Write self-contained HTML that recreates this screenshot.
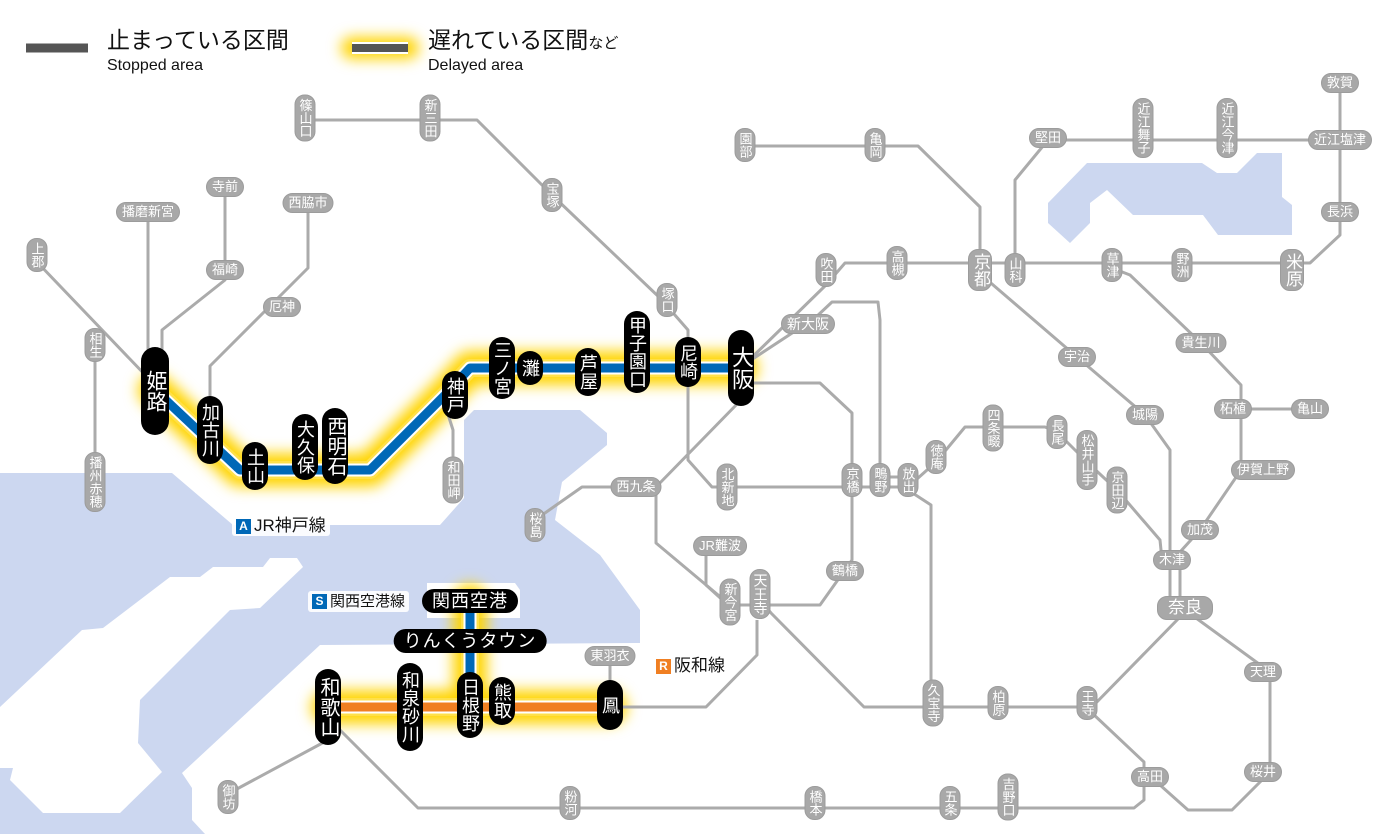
<!DOCTYPE html>
<html><head><meta charset="utf-8"><style>
html,body{margin:0;padding:0;background:#fff}
#w{position:relative;width:1400px;height:834px;overflow:hidden;font-family:"Liberation Sans","Noto Sans CJK JP",sans-serif}
svg{position:absolute;left:0;top:0}
.p{position:absolute;transform:translate(-50%,-50%);color:#fff;text-align:center;white-space:nowrap;box-sizing:border-box}
.g{background:#a8a8a8;font-size:13px;border-radius:10px;border:1px solid #9c9c9c}
.gv{writing-mode:vertical-rl;text-orientation:upright;width:21px;line-height:19px;padding:3px 0}
.gh{height:20px;line-height:18px;padding:0 5px}
.b{background:#000;font-size:18px;border-radius:14px}
.bv{writing-mode:vertical-rl;text-orientation:upright;line-height:26px;width:26px}
.bh{height:24px;line-height:24px;padding:0 10px;font-size:18px;letter-spacing:1px}
.lab{position:absolute;background:rgba(255,255,255,.9);font-size:17px;color:#111;padding:0 4px;height:21px;line-height:21px;border-radius:3px;white-space:nowrap}
.ic{display:inline-block;width:15px;height:15px;line-height:15px;font-size:12px;font-weight:bold;color:#fff;text-align:center;margin-right:3px;vertical-align:1px}
.lg{position:absolute;color:#111;white-space:nowrap}
</style></head><body><div id="w">
<svg width="1400" height="834" viewBox="0 0 1400 834">
<defs><filter id="bl" x="-20%" y="-50%" width="140%" height="200%"><feGaussianBlur stdDeviation="7"/></filter></defs>
<path fill="#ccd7f0" d="M0,473 L172,473 L233,525 L440,525 L464,498 L464,420 L474,410 L580,410 L607,433 L607,445 L562,482 L555,520 L600,555 L640,610 L640,643 L320,645 L182,773 L192,788 L192,820 L205,834 L0,834 Z"/>
<path fill="#fff" d="M0,707 L82,630 L103,628 L170,577 L200,577 L213,567 L263,567 L270,558 L297,558 L303,567 L260,608 L230,610 L140,700 L138,743 L162,772 L120,813 L43,813 L10,780 L13,768 L0,768 Z"/>
<path fill="#fff" d="M427,583 L515,583 L520,590 L520,618 L427,618 Z"/>
<path fill="#ccd7f0" d="M1087,163 L1202,163 L1217,173 L1237,173 L1257,153 L1282,153 L1282,197 L1292,205 L1292,235 L1218,235 L1203,215 L1133,215 L1107,190 L1090,203 L1090,223 L1070,243 L1048,223 L1048,203 Z"/>
<g filter="url(#bl)" stroke="#ffd400" fill="none" stroke-linecap="round" stroke-linejoin="round">
<path stroke-width="34" d="M155,390 L240,470 L370,470 L445,395 L470,368 L741,368"/>
<path stroke-width="34" d="M328,707 L610,707 M470,601 L470,703"/>
<path stroke-width="22" d="M352,48 L408,48"/>
</g>
<g stroke="#ffe04a" fill="none" stroke-width="18" stroke-linejoin="round">
<path d="M155,390 L240,470 L370,470 L445,395 L470,368 L741,368"/>
<path d="M328,707 L610,707 M470,601 L470,703"/>
</g>
<g stroke="#ababab" stroke-width="3" fill="none" stroke-linejoin="round">
<path d="M37,262 L150,380"/>
<path d="M95,345 L95,480"/>
<path d="M148,212 L148,372"/>
<path d="M225,187 L225,280 L162,330 L162,372"/>
<path d="M308,203 L308,268 L210,366 L210,420"/>
<path d="M305,120 L477,120 L552,195 L660,298 L688,330 L688,460 L712,487 L908,487"/>
<path d="M880,477 L908,477"/>
<path d="M741,368 L826,285 L845,263 L1310,263 L1340,235 L1340,83"/>
<path d="M748,362 L815,318 L832,302 L878,302 L880,320 L880,477"/>
<path d="M1015,268 L1015,180 L1048,140 M1048,140 L1340,140"/>
<path d="M980,268 L980,207 L918,146 L745,146"/>
<path d="M985,278 L1077,357 L1145,415 L1170,450 L1170,610"/>
<path d="M1180,560 L1180,610"/>
<path d="M1112,268 L1130,275 L1201,343 L1241,385 L1241,470 L1200,530 L1180,552"/>
<path d="M1233,409 L1310,409"/>
<path d="M760,600 L771,613 L864,707 L1092,707 L1180,617"/>
<path d="M1185,610 L1270,672 L1270,772 L1232,810 L1188,810 L1160,785"/>
<path d="M1092,713 L1144,762 L1144,800 L1134,808 L418,808 L340,730"/>
<path d="M328,740 L235,790"/>
<path d="M610,707 L706,707 L757,655 L757,620"/>
<path d="M610,656 L610,690"/>
<path d="M741,383 L820,383 L852,413 L852,560 L820,605 L730,605 L656,543 L656,487 L741,400"/>
<path d="M656,487 L582,487 L535,520"/>
<path d="M706,547 L706,585 L728,605"/>
<path d="M730,605 L780,605"/>
<path d="M908,490 L931,505 L931,703"/>
<path d="M908,487 L936,462 L965,427 L1045,427 L1057,432 L1087,462 L1117,490 L1160,540 L1162,560"/>
<path d="M445,405 L453,430 L453,470"/>
</g>
<g fill="none" stroke-linejoin="round">
<path stroke="#fff" stroke-width="13" d="M155,390 L240,470 L370,470 L445,395 L470,368 L741,368"/>
<path stroke="#0068b7" stroke-width="9" d="M155,390 L240,470 L370,470 L445,395 L470,368 L741,368"/>
<path stroke="#fff" stroke-width="13" d="M470,601 L470,703 M328,707 L610,707"/>
<path stroke="#0068b7" stroke-width="9" d="M470,601 L470,703"/>
<path stroke="#f07f22" stroke-width="9" d="M328,707 L610,707"/>
<path stroke="#fff" stroke-width="12" d="M352,48 L408,48"/>
<path stroke="#555" stroke-width="8" d="M352,48 L408,48"/>
<path stroke="#555" stroke-width="9" d="M26,48 L88,48"/>
</g>
</svg>

<div class="lg" style="left:107px;top:27px;font-size:23px;line-height:26px">止まっている区間</div>
<div class="lg" style="left:107px;top:56px;font-size:16px;line-height:20px">Stopped area</div>
<div class="lg" style="left:428px;top:27px;font-size:23px;line-height:26px">遅れている区間<span style="font-size:15px">など</span></div>
<div class="lg" style="left:428px;top:56px;font-size:16px;line-height:20px">Delayed area</div>

<div class="lab" style="left:232px;top:515px"><span class="ic" style="background:#0068b7">A</span>JR神戸線</div>
<div class="lab" style="left:308px;top:591px;font-size:15px"><span class="ic" style="background:#0068b7">S</span>関西空港線</div>
<div class="lab" style="left:652px;top:655px"><span class="ic" style="background:#f07f22">R</span>阪和線</div>

<div class="p g gv" style="left:37px;top:255px">上郡</div>
<div class="p g gv" style="left:95px;top:345px">相生</div>
<div class="p g gv" style="left:95px;top:482px">播州赤穂</div>
<div class="p g gv" style="left:305px;top:118px">篠山口</div>
<div class="p g gv" style="left:430px;top:118px">新三田</div>
<div class="p g gv" style="left:552px;top:195px">宝塚</div>
<div class="p g gv" style="left:667px;top:300px">塚口</div>
<div class="p g gv" style="left:453px;top:480px">和田岬</div>
<div class="p g gv" style="left:535px;top:525px">桜島</div>
<div class="p g gv" style="left:727px;top:487px">北新地</div>
<div class="p g gv" style="left:730px;top:602px">新今宮</div>
<div class="p g gv" style="left:760px;top:594px;font-size:14px">天王寺</div>
<div class="p g gv" style="left:852px;top:480px">京橋</div>
<div class="p g gv" style="left:880px;top:480px">鴫野</div>
<div class="p g gv" style="left:908px;top:480px">放出</div>
<div class="p g gv" style="left:936px;top:457px">徳庵</div>
<div class="p g gv" style="left:993px;top:428px">四条畷</div>
<div class="p g gv" style="left:1057px;top:432px">長尾</div>
<div class="p g gv" style="left:1087px;top:460px">松井山手</div>
<div class="p g gv" style="left:1117px;top:490px">京田辺</div>
<div class="p g gv" style="left:745px;top:145px">園部</div>
<div class="p g gv" style="left:875px;top:145px">亀岡</div>
<div class="p g gv" style="left:826px;top:270px">吹田</div>
<div class="p g gv" style="left:897px;top:263px">高槻</div>
<div class="p g gv" style="left:980px;top:270px;width:24px;line-height:22px;font-size:17px">京都</div>
<div class="p g gv" style="left:1015px;top:270px">山科</div>
<div class="p g gv" style="left:1143px;top:128px">近江舞子</div>
<div class="p g gv" style="left:1227px;top:128px">近江今津</div>
<div class="p g gv" style="left:1112px;top:265px">草津</div>
<div class="p g gv" style="left:1182px;top:265px">野洲</div>
<div class="p g gv" style="left:1292px;top:270px;width:24px;line-height:22px;font-size:17px">米原</div>
<div class="p g gv" style="left:570px;top:803px">粉河</div>
<div class="p g gv" style="left:815px;top:803px">橋本</div>
<div class="p g gv" style="left:950px;top:803px">五条</div>
<div class="p g gv" style="left:1008px;top:797px">吉野口</div>
<div class="p g gv" style="left:933px;top:703px">久宝寺</div>
<div class="p g gv" style="left:998px;top:703px">柏原</div>
<div class="p g gv" style="left:1087px;top:703px">王寺</div>
<div class="p g gv" style="left:228px;top:797px">御坊</div>

<div class="p g gh" style="left:148px;top:212px">播磨新宮</div>
<div class="p g gh" style="left:225px;top:187px">寺前</div>
<div class="p g gh" style="left:225px;top:270px">福崎</div>
<div class="p g gh" style="left:308px;top:203px">西脇市</div>
<div class="p g gh" style="left:282px;top:307px">厄神</div>
<div class="p g gh" style="left:1340px;top:83px">敦賀</div>
<div class="p g gh" style="left:1048px;top:138px">堅田</div>
<div class="p g gh" style="left:1340px;top:140px">近江塩津</div>
<div class="p g gh" style="left:1340px;top:212px">長浜</div>
<div class="p g gh" style="left:1077px;top:357px">宇治</div>
<div class="p g gh" style="left:1145px;top:415px">城陽</div>
<div class="p g gh" style="left:1233px;top:409px">柘植</div>
<div class="p g gh" style="left:1310px;top:409px">亀山</div>
<div class="p g gh" style="left:1263px;top:470px">伊賀上野</div>
<div class="p g gh" style="left:1200px;top:530px">加茂</div>
<div class="p g gh" style="left:1172px;top:560px">木津</div>
<div class="p g gh" style="left:1185px;top:608px;height:24px;line-height:22px;font-size:17px;padding:0 10px">奈良</div>
<div class="p g gh" style="left:1263px;top:672px">天理</div>
<div class="p g gh" style="left:1263px;top:772px">桜井</div>
<div class="p g gh" style="left:1150px;top:777px">高田</div>
<div class="p g gh" style="left:1201px;top:343px">貴生川</div>
<div class="p g gh" style="left:808px;top:324px;font-size:14px">新大阪</div>
<div class="p g gh" style="left:636px;top:487px">西九条</div>
<div class="p g gh" style="left:720px;top:546px">JR難波</div>
<div class="p g gh" style="left:845px;top:571px">鶴橋</div>
<div class="p g gh" style="left:610px;top:656px">東羽衣</div>

<div class="p b bv" style="left:155px;top:391px;height:88px;font-size:21px;width:28px;line-height:28px">姫路</div>
<div class="p b bv" style="left:210px;top:430px;height:68px">加古川</div>
<div class="p b bv" style="left:255px;top:466px;height:48px">土山</div>
<div class="p b bv" style="left:305px;top:447px;height:66px">大久保</div>
<div class="p b bv" style="left:335px;top:446px;height:76px;font-size:20px">西明石</div>
<div class="p b bv" style="left:455px;top:395px;height:48px">神戸</div>
<div class="p b bv" style="left:502px;top:368px;height:62px">三ノ宮</div>
<div class="p b bv" style="left:530px;top:368px;height:34px">灘</div>
<div class="p b bv" style="left:588px;top:372px;height:48px">芦屋</div>
<div class="p b bv" style="left:637px;top:352px;height:82px">甲子園口</div>
<div class="p b bv" style="left:688px;top:362px;height:50px">尼崎</div>
<div class="p b bv" style="left:741px;top:368px;height:76px;font-size:22px;width:26px">大阪</div>
<div class="p b bh" style="left:470px;top:601px">関西空港</div>
<div class="p b bh" style="left:470px;top:641px">りんくうタウン</div>
<div class="p b bv" style="left:328px;top:707px;height:76px;font-size:20px">和歌山</div>
<div class="p b bv" style="left:410px;top:707px;height:88px">和泉砂川</div>
<div class="p b bv" style="left:470px;top:705px;height:66px">日根野</div>
<div class="p b bv" style="left:502px;top:701px;height:48px">熊取</div>
<div class="p b bv" style="left:610px;top:705px;height:50px">鳳</div>
</div></body></html>
